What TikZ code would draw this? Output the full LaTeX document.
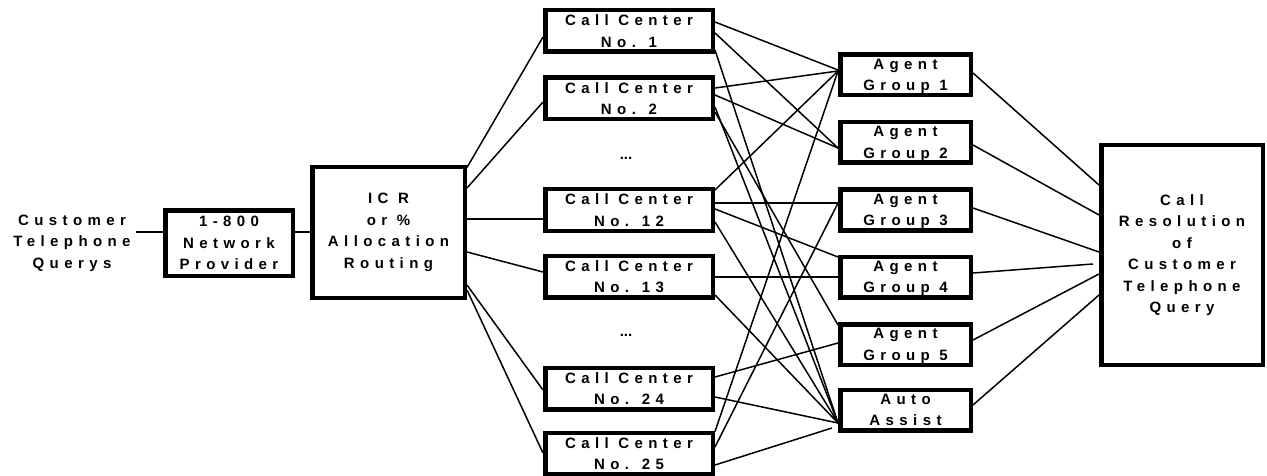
\documentclass[tikz,border=0pt]{standalone}
\usepackage{fontspec}
\newfontfamily\lbl{Liberation Sans}[LetterSpace=36]
\newfontfamily\lblplain{Liberation Sans}
\begin{document}
\begin{tikzpicture}[x=1pt,y=-1pt,
  lab/.style={inner sep=0pt, align=center, font=\lbl\bfseries\fontsize{15}{21.5}\selectfont},
  dots/.style={inner sep=0pt, font=\lblplain\bfseries\fontsize{15}{18}\selectfont},
  box/.style={lab, draw, line width=4.5pt, fill=white},
  ccbox/.style={box, minimum width=167.5pt, minimum height=41.5pt},
  agbox/.style={box, minimum width=130.5pt, minimum height=40.5pt},
  conn/.style={line width=1.5pt}]
\useasboundingbox (0,0) rectangle (1267,476);
% nodes
\node[lab] (ct) at (72,243) {Customer\\Telephone\\Querys};
\node[box, minimum width=127.5pt, minimum height=65.5pt] (n) at (229,243) {1-800\\Network\\Provider};
\node[box, minimum width=152.5pt, minimum height=130.5pt] (icr) at (388.5,232.5) {IC R\\or \%\\Allocation\\Routing};
\node[ccbox] (cc1) at (629,31) {Call Center\\No. 1};
\node[ccbox] (cc2) at (629,98.5) {Call Center\\No. 2};
\node[dots] (d1) at (626,158) {...};
\node[ccbox] (cc12) at (629,210) {Call Center\\No. 12};
\node[ccbox] (cc13) at (629,276.5) {Call Center\\No. 13};
\node[dots] (d2) at (626,335) {...};
\node[ccbox] (cc24) at (629,388.5) {Call Center\\No. 24};
\node[ccbox] (cc25) at (629,453.5) {Call Center\\No. 25};
\node[agbox] (ag1) at (905.5,75) {};
\node[lab] (ag1t) at ([yshift=-1.5pt]ag1.center) {Agent\\Group 1};
\node[agbox] (ag2) at (905.5,142.5) {};
\node[lab] (ag2t) at ([yshift=-1.5pt]ag2.center) {Agent\\Group 2};
\node[agbox] (ag3) at (905.5,210) {};
\node[lab] (ag3t) at ([yshift=-1.5pt]ag3.center) {Agent\\Group 3};
\node[agbox] (ag4) at (905.5,277) {};
\node[lab] (ag4t) at ([yshift=-1.5pt]ag4.center) {Agent\\Group 4};
\node[agbox] (ag5) at (905.5,344.5) {};
\node[lab] (ag5t) at ([yshift=-1.5pt]ag5.center) {Agent\\Group 5};
\node[agbox] (auto) at (905.5,410) {Auto\\Assist};
\node[box, minimum width=161.5pt, minimum height=219.5pt] (cr) at (1182,255) {Call\\Resolution\\of\\Customer\\Telephone\\Query};
% connectors
\draw[conn] ([yshift=11pt,xshift=5pt]ct.east) -- ([yshift=11pt]n.west);
\draw[conn] ([yshift=11pt]n.east) -- ([yshift=11pt]n.east -| icr.west);
\draw[conn] ([yshift=65pt]icr.east) -- ([yshift=-6pt]cc1.west);
\draw[conn] ([yshift=44.5pt]icr.east) -- ([yshift=-3.5pt]cc2.west);
\draw[conn] ([yshift=13.5pt]icr.east) -- ([yshift=-9pt]cc12.west);
\draw[conn] ([yshift=-19.5pt]icr.east) -- ([yshift=4.5pt]cc13.west);
\draw[conn] ([yshift=-52.5pt]icr.east) -- ([yshift=-1.5pt]cc24.west);
\draw[conn] ([yshift=-57.5pt]icr.east) -- ([yshift=0.5pt]cc25.west);
% call centers to agent groups
\draw[conn] ([yshift=9pt]cc1.east) -- ([yshift=5pt]ag1.west);
\draw[conn] ([yshift=-2pt]cc1.east) -- ([yshift=-5.5pt]ag2.west);
\draw[conn] ([yshift=-19pt]cc1.east) -- ([yshift=-13pt]auto.west);
\draw[conn] ([yshift=10.5pt]cc2.east) -- ([yshift=4pt]ag1.west);
\draw[conn] ([yshift=3.5pt]cc2.east) -- ([yshift=-5.5pt]ag2.west);
\draw[conn] ([yshift=-8.5pt]cc2.east) -- ([yshift=-13pt]auto.west);
\draw[conn] ([yshift=-13.5pt]cc2.east) -- ([yshift=19.5pt]ag5.west);
\draw[conn] ([yshift=20pt]cc12.east) -- ([yshift=4pt]ag1.west);
\draw[conn] ([yshift=7pt]cc12.east) -- ([yshift=7pt]ag3.west);
\draw[conn] ([yshift=1pt]cc12.east) -- ([yshift=20pt]ag4.west);
\draw[conn] ([yshift=-12pt]cc12.east) -- ([yshift=-13pt]auto.west);
\draw[conn] ([yshift=-0.5pt]cc13.east) -- ([yshift=0pt]ag4.west);
\draw[conn] ([yshift=-18.5pt]cc13.east) -- ([yshift=-13pt]auto.west);
\draw[conn] ([yshift=11.5pt]cc24.east) -- ([yshift=1.5pt]ag5.west);
\draw[conn] ([yshift=-8.5pt]cc24.east) -- ([yshift=-13pt]auto.west);
\draw[conn] ([yshift=22pt]cc25.east) -- ([yshift=4pt]ag1.west);
\draw[conn] ([yshift=6.5pt]cc25.east) -- ([yshift=7pt]ag3.west);
\draw[conn] ([yshift=-11.5pt]cc25.east) -- ([yshift=-18pt,xshift=-6pt]auto.west);
% agent groups to resolution
\draw[conn] ([yshift=2pt]ag1.east) -- ([yshift=70pt]cr.west);
\draw[conn] ([yshift=-2.5pt]ag2.east) -- ([yshift=40pt]cr.west);
\draw[conn] ([yshift=2pt]ag3.east) -- ([yshift=3pt]cr.west);
\draw[conn] ([yshift=4pt]ag4.east) -- ([yshift=-9pt,xshift=-6pt]cr.west);
\draw[conn] ([yshift=4.5pt]ag5.east) -- ([yshift=-19pt]cr.west);
\draw[conn] ([yshift=5pt]auto.east) -- ([yshift=-40pt]cr.west);
\end{tikzpicture}
\end{document}
